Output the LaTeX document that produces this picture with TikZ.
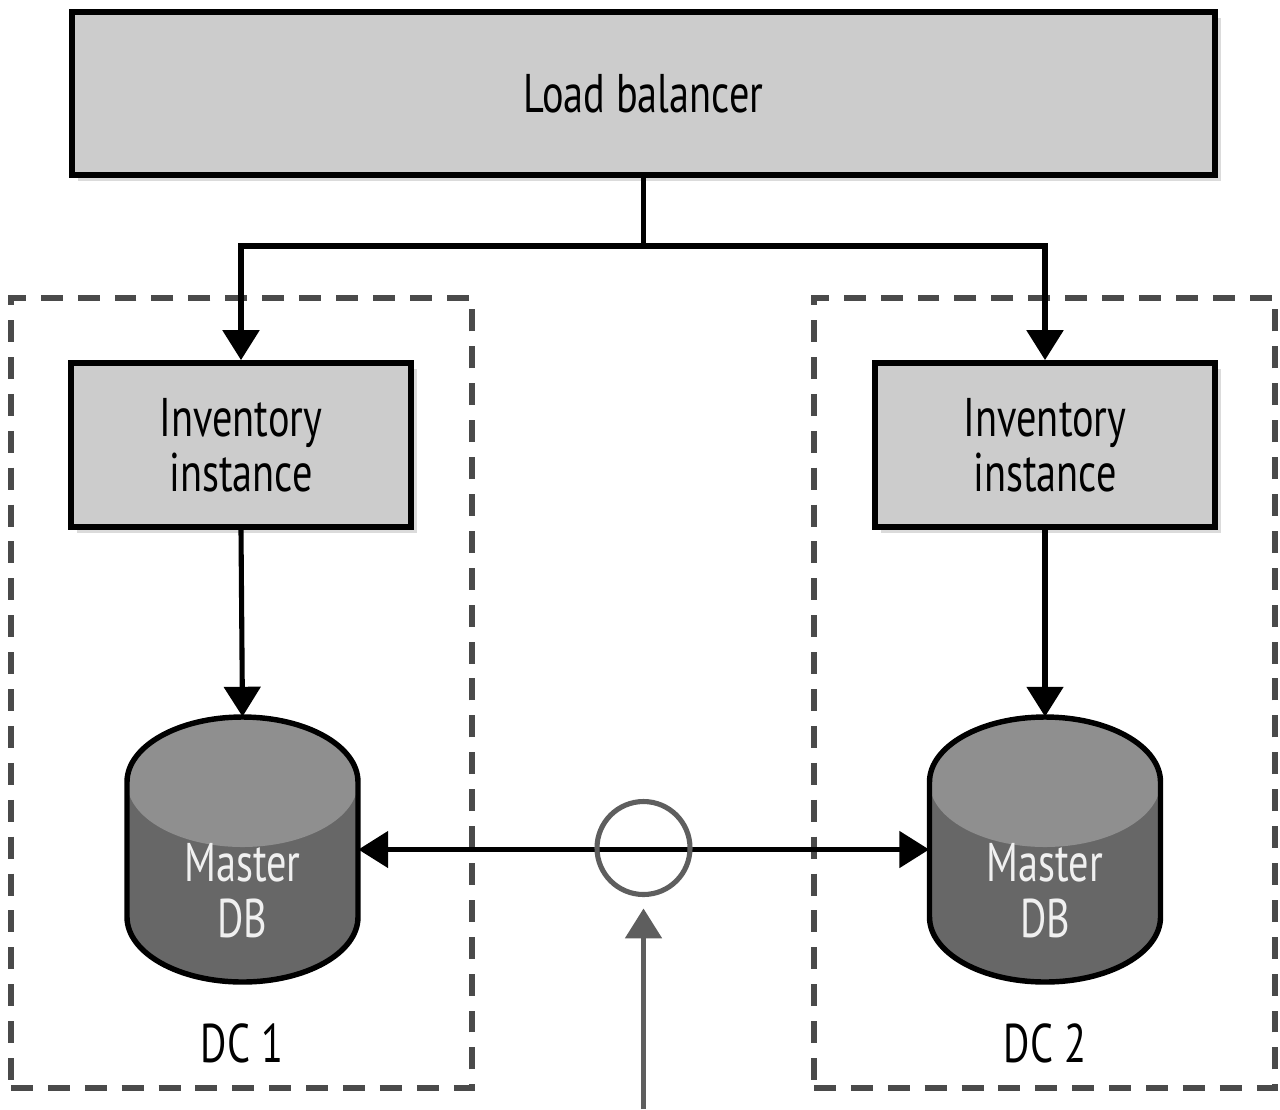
\documentclass[tikz,border=0pt]{standalone}
\usepackage{fontspec}
\setmainfont{PT Sans}[FakeStretch=0.74]
\usetikzlibrary{arrows.meta,shadows}
\definecolor{boxgray}{HTML}{CCCCCC}
\definecolor{dbside}{HTML}{676767}
\definecolor{dbtop}{HTML}{8F8F8F}
\definecolor{dashgray}{HTML}{4A4A4A}
\definecolor{feedgray}{HTML}{5E5E5E}
\definecolor{dbtext}{HTML}{F0F0F0}
\def\pxu{0.02cm}
\begin{document}
\begin{tikzpicture}[x=0.02cm,y=-0.02cm,
  every node/.style={font=\fontsize{31pt}{31.5pt}\selectfont, inner sep=0pt},
  box/.style={draw=black, fill=boxgray, line width=3.3pt, align=center,
    drop shadow={shadow xshift=3.5pt, shadow yshift=-3.5pt, opacity=0.28}},
  dcbox/.style={draw=dashgray, line width=3.4pt, dash pattern=on 12.5pt off 8.5pt,
    minimum width=461*\pxu, minimum height=790*\pxu},
  dbspot/.style={minimum width=231*\pxu, minimum height=265*\pxu},
  dblabel/.style={text=dbtext, align=center, font=\fontsize{31pt}{32pt}\selectfont},
  arr/.style={-{Triangle[width=20.5pt,length=17pt]}, line width=2.9pt},
  biarr/.style={{Triangle[width=20.5pt,length=17pt]}-{Triangle[width=20.5pt,length=17pt]}, line width=2.9pt},
  feedarr/.style={-{Triangle[width=20.5pt,length=17pt]}, line width=2.9pt, draw=feedgray, color=feedgray},
  hub/.style={circle, draw=feedgray, line width=2.9pt, minimum size=93*\pxu},
]
\useasboundingbox (0,0) rectangle (1280,1109);
\fill[white] (0,0) rectangle (1280,1109);

% data centre frames
\node[dcbox] (dc1) at (241.5,693) {};
\node[dcbox] (dc2) at (1044.5,693) {};
\node (dc1label) at (242,1043) {DC 1};
\node (dc2label) at (1045,1043) {DC 2};

% load balancer and the two service instances
\node[box, minimum width=1143*\pxu, minimum height=163*\pxu] (lb) at (643.5,93.5) {Load balancer};
\node[box, minimum width=340*\pxu, minimum height=164*\pxu] (inst1) at (241,445) {Inventory\\instance};
\node[box, minimum width=340*\pxu, minimum height=164*\pxu] (inst2) at (1045,445) {Inventory\\instance};

% database cylinders
\foreach \cx in {242.5,1045} {
  \fill[dbside] (\cx-115.5,782) -- (\cx-115.5,917)
    arc[start angle=180, end angle=0, x radius=115.5, y radius=65]
    -- (\cx+115.5,782)
    arc[start angle=0, end angle=-180, x radius=115.5, y radius=65] -- cycle;
  \fill[dbtop] (\cx,782) ellipse[x radius=115.5, y radius=65];
  \draw[line width=3.1pt] (\cx-115.5,782) -- (\cx-115.5,917)
    arc[start angle=180, end angle=0, x radius=115.5, y radius=65]
    -- (\cx+115.5,782)
    arc[start angle=0, end angle=-180, x radius=115.5, y radius=65] -- cycle;
}
\node[dbspot] (db1) at (242.5,849.5) {};
\node[dbspot] (db2) at (1045,849.5) {};
\node[dblabel] (db1text) at (242.5,891) {Master\\DB};
\node[dblabel] (db2text) at (1045,891) {Master\\DB};

% request routing
\coordinate (split) at (643.5,246);
\draw[line width=2.9pt] (lb.south) -- (split);
\draw[arr] (split) -| (inst1.north);
\draw[arr] (split) -| (inst2.north);
\draw[arr] (inst1.south) -- (db1.north);
\draw[arr] (inst2.south) -- (db2.north);

% replication link and the partition point on it
\draw[biarr] (db1.east) -- (db2.west);
\node[hub] (cut) at (643.5,848) {};
\coordinate (feed) at (643.5,1109);
\draw[feedarr, shorten >=6.5pt] (feed) -- (cut.south);
\end{tikzpicture}
\end{document}
